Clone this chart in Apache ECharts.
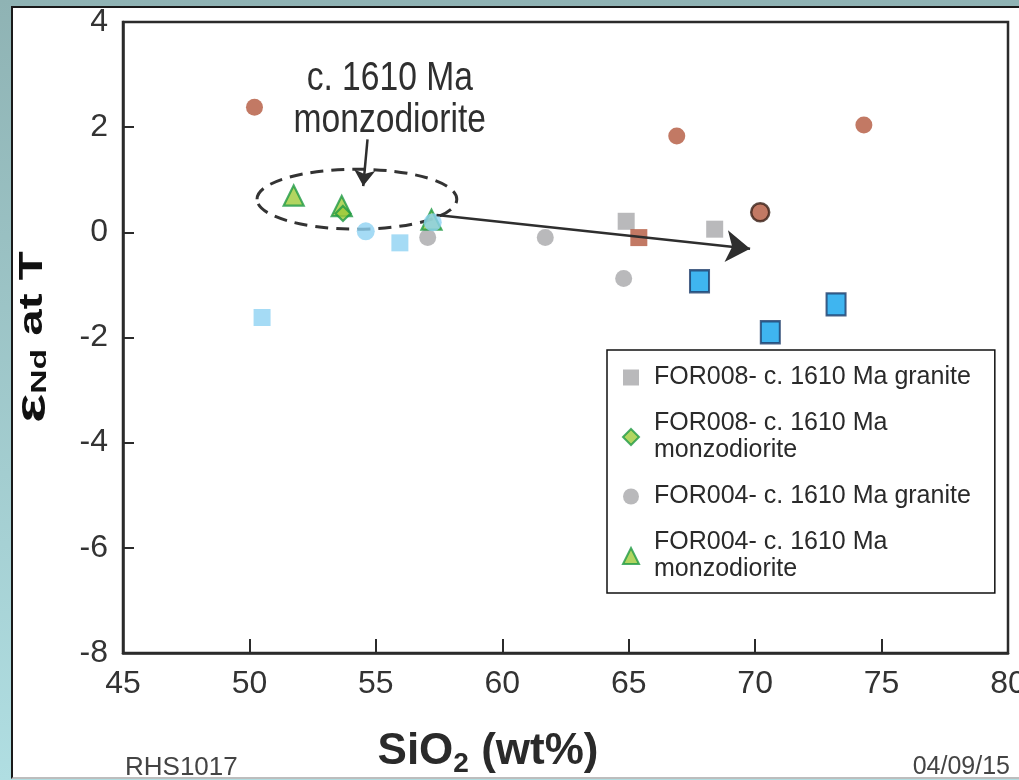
<!DOCTYPE html>
<html>
<head>
<meta charset="utf-8">
<script src="https://cdn.jsdelivr.net/npm/echarts@6/dist/echarts.min.js"></script>
<style>
  html, body { margin: 0; padding: 0; width: 1019px; height: 780px; overflow: hidden;
    background: linear-gradient(#8fb3b4, #b0dee2); }
  #panel { position: absolute; left: 11px; top: 6px; width: 1008px; height: 773px; background: #fff;
    border-left: 2px solid #1a1a1a; border-top: 2px solid #1a1a1a; border-bottom: 2px solid #bdbdbd; box-sizing: border-box; }
  #chart { position: absolute; left: 0; top: 0; width: 1019px; height: 780px; }
</style>
</head>
<body>
<div id="panel"></div>
<div id="chart"></div>
<script>
// Axis ranges (SiO2 wt% vs epsilon-Nd at T)
const xRange = [45, 80];
const yRange = [-8, 4];

// Legend entries
const legendNames = [
  'FOR008- c. 1610 Ma granite',
  'FOR008- c. 1610 Ma\nmonzodiorite',
  'FOR004- c. 1610 Ma granite',
  'FOR004- c. 1610 Ma\nmonzodiorite'
];

// Samples: [SiO2, eNd]
const for008Granite = [[64.9, 0.21], [68.4, 0.06]];
const for008Monzo = [[53.7, 0.36]];
const for004Granite = [[57.05, -0.1], [61.7, -0.1], [64.8, -0.88]];
const for004Monzo = [[57.2, 0.24], [51.75, 0.7], [53.65, 0.5]];
const brownCircles = [[50.2, 2.38], [66.9, 1.83], [74.3, 2.04]];
const brownOutlined = [[70.2, 0.38]];
const brownSquares = [[65.4, -0.1]];
const paleBlueCircles = [[57.25, 0.19], [54.6, 0.02]];
const paleBlueSquares = [[50.5, -1.62], [55.95, -0.2]];
const blueSquares = [[67.8, -0.93], [70.6, -1.9], [73.2, -1.37]];
const blueCircles = [[70.6, -2.45]];

// Annotation geometry in data units
const groupEllipse = [[54.25, 0.63, 3.95, 0.57]]; // cx, cy, rx, ry
const trendArrow = [[57.4, 0.33], [69.8, -0.31]];
const pointerArrow = [[54.67, 1.77], [54.5, 0.88]];
const noteAnchor = [[55.55, 2.51]];
const noteText = 'c. 1610 Ma\nmonzodiorite';

const sans = '"Liberation Sans", Arial, Helvetica, sans-serif';

const brown = '#b3573d', grey = '#a7a7aa', paleBlue = '#8fd2f2', blue = '#0fa2ec';

function scatter(name, data, symbol, size, style, z) {
  return { name, type: 'scatter', data, symbol, symbolSize: size, itemStyle: style, z: z || 3,
    emphasis: { disabled: true } };
}

const chart = echarts.init(document.getElementById('chart'), null, { renderer: 'canvas' });

chart.setOption({
  animation: false,
  backgroundColor: 'transparent',
  grid: { left: 123, right: 11, top: 22, bottom: 127, outerBoundsMode: 'none', containLabel: false,
    show: true, borderColor: '#2b2b2b', borderWidth: 2.5, backgroundColor: 'transparent' },
  xAxis: {
    type: 'value', min: xRange[0], max: xRange[1], interval: 5,
    splitLine: { show: false },
    axisLine: { onZero: false, lineStyle: { color: '#2b2b2b', width: 2.5 } },
    axisTick: { inside: true, length: 14, lineStyle: { color: '#2b2b2b', width: 2 } },
    axisLabel: { margin: 15, color: '#333', fontSize: 32, fontFamily: sans }
  },
  yAxis: {
    type: 'value', min: yRange[0], max: yRange[1], interval: 2,
    splitLine: { show: false },
    axisLine: { onZero: false, lineStyle: { color: '#2b2b2b', width: 2.5 } },
    axisTick: { inside: true, length: 11, lineStyle: { color: '#2b2b2b', width: 2 } },
    axisLabel: { margin: 15, color: '#333', fontSize: 32, fontFamily: sans }
  },
  legend: {
    orient: 'vertical', left: 607, top: 350,
    backgroundColor: '#fff', borderColor: '#111', borderWidth: 1.5, borderRadius: 0,
    padding: [14, 24, 10, 15], itemGap: 19, itemWidth: 16, itemHeight: 16,
    selectedMode: false, z: 10,
    textStyle: { fontFamily: sans, fontSize: 25, color: '#2a2a2a', lineHeight: 27, padding: [0, 0, 0, 10] },
    data: [
      { name: legendNames[0], icon: 'rect' },
      { name: legendNames[1], icon: 'diamond' },
      { name: legendNames[2], icon: 'circle' },
      { name: legendNames[3], icon: 'triangle' }
    ]
  },
  series: [
    // dashed outline around the monzodiorite group
    { type: 'custom', data: groupEllipse, z: 1, silent: true,
      renderItem: (p, api) => {
        const c = api.coord([api.value(0), api.value(1)]);
        const s = api.size([api.value(2), api.value(3)]);
        return { type: 'ellipse', shape: { cx: c[0], cy: c[1], rx: s[0], ry: s[1] },
          style: { fill: null, stroke: '#333', lineWidth: 3, lineDash: [13, 8] } };
      } },
    // annotation text (condensed)
    { type: 'custom', data: noteAnchor, z: 1, silent: true,
      renderItem: (p, api) => {
        const c = api.coord([api.value(0), api.value(1)]);
        return { type: 'text', x: c[0], y: c[1], scaleX: 0.84,
          style: { text: noteText, fontSize: 40, fontFamily: sans, fill: '#2f2f2f',
            align: 'center', verticalAlign: 'middle', lineHeight: 42 } };
      } },
    scatter('brown', brownCircles, 'circle', 17, { color: brown }),
    scatter('brownOutlined', brownOutlined, 'circle', 18, { color: brown, borderColor: '#3a2018', borderWidth: 2.5 }),
    scatter(legendNames[2], for004Granite, 'circle', 17, { color: grey }),
    scatter('paleBlueCircles', paleBlueCircles, 'circle', 18, { color: paleBlue }, 4),
    scatter('paleBlueSquares', paleBlueSquares, 'rect', 17, { color: paleBlue }),
    scatter(legendNames[0], for008Granite, 'rect', 17, { color: grey }),
    scatter('brownSquares', brownSquares, 'rect', 17, { color: brown }, 4),
    scatter(legendNames[3], for004Monzo, 'triangle', 20, { color: '#9fcb3a', borderColor: '#1f9a45', borderWidth: 2.2 }, 3),
    scatter(legendNames[1], for008Monzo, 'diamond', 15, { color: '#9fcb3a', borderColor: '#1f9a45', borderWidth: 2.2 }, 5),
    scatter('blueSquares', blueSquares, 'rect', [19, 22], { color: blue, borderColor: '#1d3c6a', borderWidth: 2.2 }),
    scatter('blueCircles', blueCircles, 'circle', 18, { color: blue, borderColor: '#1d3c6a', borderWidth: 2 }, 2),
    // trend arrow and pointer arrow
    { type: 'lines', coordinateSystem: 'cartesian2d', z: 6, silent: true,
      symbol: ['none', 'arrow'], symbolSize: [0, 24],
      lineStyle: { color: '#2e2e2e', width: 2.5, opacity: 1 },
      data: [{ coords: trendArrow }] },
    { type: 'lines', coordinateSystem: 'cartesian2d', z: 6, silent: true,
      symbol: ['none', 'arrow'], symbolSize: [0, 16],
      lineStyle: { color: '#2e2e2e', width: 2.5, opacity: 1 },
      data: [{ coords: pointerArrow }] }
  ],
  graphic: [
    // y-axis title, stretched along its reading direction
    { type: 'text', x: 33, y: 337, rotation: Math.PI / 2, scaleX: 1.4, scaleY: 0.95, z: 10,
      style: { text: '{e|ε}{s|Nd}{b| at T}', align: 'center', verticalAlign: 'middle',
        rich: {
          e: { fontSize: 44, fontWeight: 'bold', fontFamily: sans, fill: '#111' },
          s: { fontSize: 24, fontWeight: 'bold', fontFamily: sans, fill: '#111', padding: [14, 0, 0, 0] },
          b: { fontSize: 34, fontWeight: 'bold', fontFamily: sans, fill: '#111' }
        } } },
    // x-axis title
    { type: 'text', x: 488, y: 752, z: 10,
      style: { text: '{b|SiO}{s|2}{b| (wt%)}', align: 'center', verticalAlign: 'middle',
        rich: {
          b: { fontSize: 44, fontWeight: 'bold', fontFamily: sans, fill: '#2a2a2a' },
          s: { fontSize: 28, fontWeight: 'bold', fontFamily: sans, fill: '#2a2a2a', padding: [24, 0, 0, 0] }
        } } },
    { type: 'text', left: 125, top: 755, style: { text: 'RHS1017', fontSize: 26, fontFamily: sans, fill: '#444' } },
    { type: 'text', right: 9, top: 755, style: { text: '04/09/15', fontSize: 25, fontFamily: sans, fill: '#444' } }
  ]
});
</script>
</body>
</html>
